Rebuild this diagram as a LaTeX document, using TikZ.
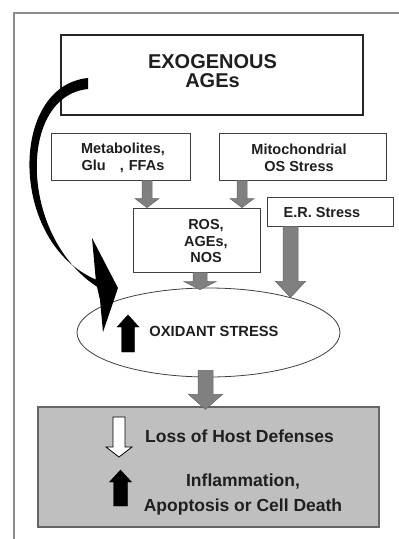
\documentclass[tikz,border=0pt]{standalone}
\usepackage{fontspec}
\setmainfont{Liberation Sans}
\usetikzlibrary{calc,shapes.geometric}
% vertical block arrow: style, from, to, half shaft, half head, head length
\newcommand{\vblk}[6]{%
  \draw[#1] let \p1=(#2), \p2=(#3), \n1={sign(\y2-\y1)} in
    (\x1-#4pt,\y1) -- (\x1-#4pt,\y2-\n1*#6pt) -- (\x1-#5pt,\y2-\n1*#6pt)
    -- (\x1,\y2) -- (\x1+#5pt,\y2-\n1*#6pt) -- (\x1+#4pt,\y2-\n1*#6pt)
    -- (\x1+#4pt,\y1) -- cycle;}
\begin{document}
\begin{tikzpicture}[x=1pt,y=-1pt,
  box/.style={draw=black!75, line width=0.8pt, fill=white, inner sep=0pt},
  txt/.style={font=\bfseries\fontsize{14.5}{16.5}\selectfont, align=center, text=black!88, inner sep=0pt},
  garrow/.style={draw=black!60, line width=0.5pt, fill=black!50},
  karrow/.style={fill=black},
  warrow/.style={draw=black, line width=0.8pt, fill=white}]
\useasboundingbox (0,0) rectangle (399,539);
\fill[white] (0,0) rectangle (399,539);
% outer frame
\draw[black!45, line width=1.5pt] (14,539) -- (14,13) -- (399,13);

% boxes
\node[box, draw=black!85, line width=2pt, minimum width=302pt, minimum height=80pt] (exo) at (212,75) {};
\node[txt, font=\bfseries\fontsize{20}{19.5}\selectfont] (exot) at (212.5,71) {EXOGENOUS\\AGEs};
\node[box, minimum width=139pt, minimum height=47pt] (met) at (120.5,156.5) {};
\node[txt] (mett) at (123,158) {Metabolites,\\Glu\hspace{14pt},\hspace{5pt}FFAs};
\node[box, minimum width=167pt, minimum height=47pt] (mito) at (302.5,156.5) {};
\node[txt] (mitot) at (299,158) {Mitochondrial\\OS Stress};
\node[box, minimum width=127pt, minimum height=64pt] (ros) at (196.5,240) {};
\node[txt] (rost) at (206,241.5) {ROS,\\AGEs,\\NOS};
\node[box, minimum width=126pt, minimum height=29pt] (er) at (330,211.5) {};
\node[txt] (ert) at (322,213) {E.R. Stress};
\node[ellipse, draw=black!75, line width=0.8pt, fill=white, minimum width=263pt, minimum height=89pt, inner sep=0pt] (ox) at (208.5,332.5) {};
\node[txt, font=\bfseries\fontsize{14.7}{16}\selectfont] (oxt) at (214,331.5) {OXIDANT STRESS};
\node[draw=black!60, line width=1.2pt, fill=black!25, minimum width=341pt, minimum height=120pt, inner sep=0pt] (res) at (208.5,467) {};
\node[txt, font=\bfseries\fontsize{17.5}{19}\selectfont] (loss) at (239.5,436.5) {Loss of Host Defenses};
\node[txt, font=\bfseries\fontsize{17.5}{25}\selectfont] (infl) at (243,494) {Inflammation,\\Apoptosis or Cell Death};

% gray connectors
\vblk{garrow}{[xshift=26.5pt]met.south}{ros.north}{5}{12}{9}
\vblk{garrow}{[xshift=-60.5pt]mito.south}{ros.north}{5}{12}{9}
\vblk{garrow}{[xshift=-39.5pt]er.south}{ox.23}{7.5}{15}{16}
\vblk{garrow}{[xshift=3.5pt]ros.south}{[yshift=-2pt]ox.north}{7}{16}{8}
\vblk{garrow}{[xshift=-3pt,yshift=7pt]ox.south}{[yshift=-3pt]res.north}{7.5}{17}{15}

% icon arrows
\coordinate (u1s) at (128,352); \coordinate (u1e) at (128,315);
\vblk{karrow}{u1s}{u1e}{6.5}{11}{12}
\coordinate (w1s) at (119,417); \coordinate (w1e) at (119,457);
\vblk{warrow}{w1s}{w1e}{6}{13}{10}
\coordinate (u2s) at (120.5,506); \coordinate (u2e) at (120.5,470);
\vblk{karrow}{u2s}{u2e}{7}{11}{12}

% curved black arrow from exogenous AGEs to oxidant stress
\coordinate (cs) at (88,83);
\coordinate (ce) at (103,332);
\fill[black] (88,78) .. controls (8,86) and (9,244) .. (97,280)
  -- (99,288) .. controls (19,238) and (17,96) .. (88,89) -- cycle;
\fill[black] (92,238) -- (118,288) -- (ce) -- (100,300) -- (96,282) -- cycle;
\end{tikzpicture}
\end{document}
